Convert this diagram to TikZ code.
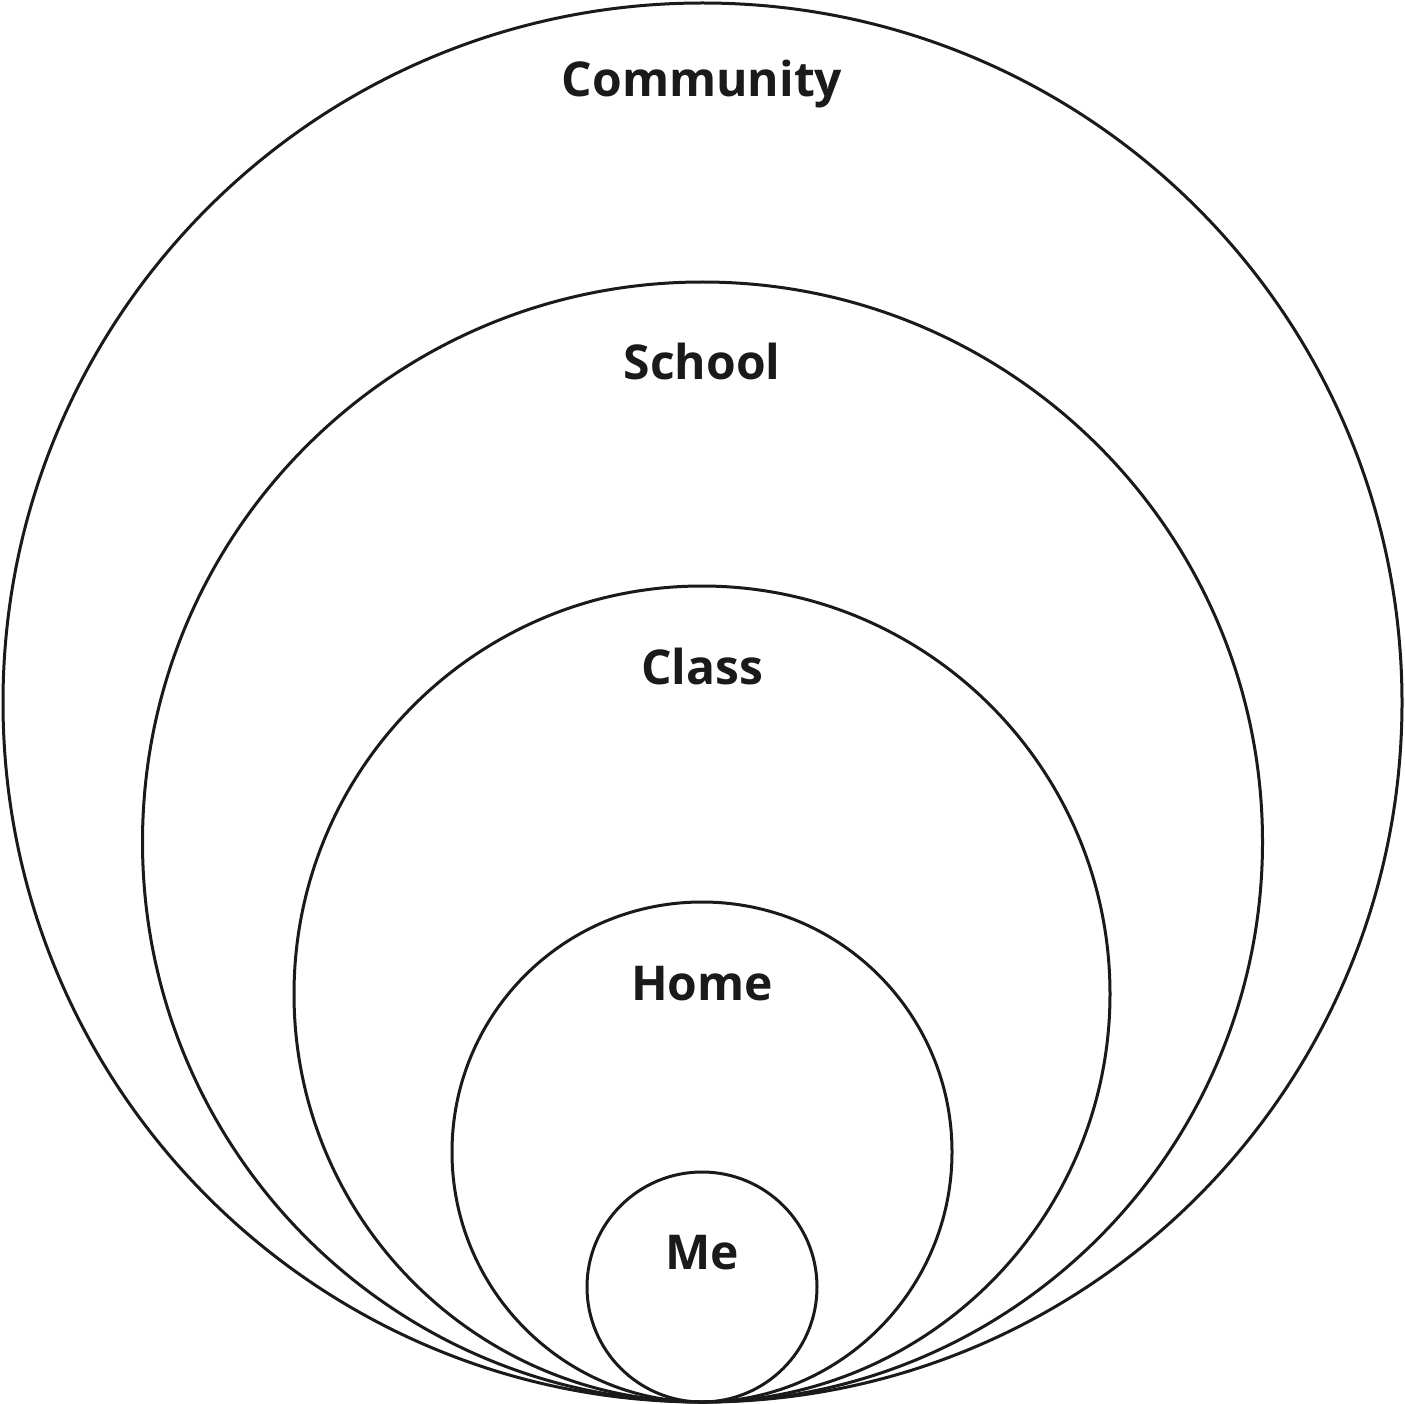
\documentclass[tikz,border=0pt]{standalone}
\usepackage{fontspec}
\setmainfont{Open Sans}
\definecolor{ink}{HTML}{1A1A1A}
\begin{document}
\begin{tikzpicture}[x=1pt,y=-1pt,
  ring/.style={draw=ink,line width=3pt},
  lbl/.style={text=ink,font=\fontsize{48}{56}\selectfont\bfseries,anchor=base,inner sep=0pt}]
\useasboundingbox (0,0) rectangle (1405,1404);
\draw[ring] (702.5,702.5) circle[radius=699.5];
\draw[ring] (702.5,842) circle[radius=560];
\draw[ring] (702,994) circle[radius=408];
\draw[ring] (702,1152) circle[radius=250];
\draw[ring] (702,1287) circle[radius=115];
\node[lbl] (community) at (702,97) {Community};
\node[lbl] (school) at (702,380) {School};
\node[lbl] (class) at (702,684) {Class};
\node[lbl] (home) at (702,1000) {Home};
\node[lbl] (me) at (702,1269) {Me};
\end{tikzpicture}
\end{document}
